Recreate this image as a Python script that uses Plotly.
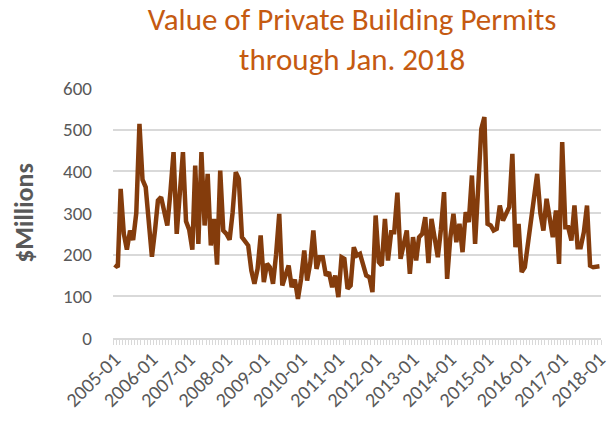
import pandas as pd
import plotly.graph_objects as go

# Monthly value of private building permits ($ millions), 2005-01 .. 2018-01
start_month = "2005-01-01"
values = [
    176, 170, 358, 250, 212, 258, 235, 300, 514, 380, 362, 270,   # 2005
    195, 260, 330, 338, 300, 270, 350, 446, 250, 340, 446, 280,   # 2006
    260, 212, 414, 226, 446, 270, 394, 222, 286, 176, 402, 258,   # 2007
    250, 236, 300, 398, 382, 242, 232, 222, 162, 130, 166, 246,   # 2008
    134, 178, 170, 130, 200, 298, 126, 150, 174, 122, 140, 94,    # 2009
    142, 210, 138, 180, 258, 166, 194, 194, 150, 158, 122, 150,   # 2010
    98, 194, 190, 118, 126, 218, 198, 202, 170, 150, 146, 110,    # 2011
    294, 182, 174, 286, 186, 254, 254, 349, 190, 220, 258, 154,   # 2012
    242, 186, 242, 250, 290, 180, 286, 240, 194, 260, 350, 142,   # 2013
    240, 298, 230, 274, 206, 302, 278, 390, 226, 360, 502, 530,   # 2014
    274, 270, 258, 262, 318, 282, 300, 314, 442, 218, 274, 158,   # 2015
    170, 230, 290, 350, 394, 300, 258, 334, 294, 242, 306, 178,   # 2016
    470, 266, 266, 234, 318, 218, 218, 254, 318, 174, 170, 170,   # 2017
    172,                                                          # 2018-01
]
months = pd.date_range(start_month, periods=len(values), freq="MS")

title_text = "Value of Private Building Permits<br>through Jan. 2018"
y_title = "$Millions"
y_ticks = [0, 100, 200, 300, 400, 500, 600]

font_family = "Carlito, Lato, sans-serif"
grey = "#595959"
grid = "#D9D9D9"

fig = go.Figure(
    go.Scatter(
        x=months,
        y=values,
        mode="lines",
        line=dict(color="#843C0C", width=4.5),
        hoverinfo="x+y",
    )
)

fig.update_layout(
    width=607,
    height=415,
    margin=dict(l=105, r=14, t=80, b=85),
    paper_bgcolor="white",
    plot_bgcolor="white",
    showlegend=False,
    font=dict(family=font_family, color=grey),
    title=dict(
        text=title_text,
        x=0.49,
        xref="paper",
        xanchor="center",
        yref="container",
        y=0.947,
        yanchor="top",
        font=dict(family=font_family, size=31, color="#C55A11"),
    ),
)

fig.update_xaxes(
    type="date",
    range=["2004-12-16", "2018-01-16"],
    tick0="2005-01-01",
    dtick="M12",
    tickformat="%Y-%m",
    tickangle=-45,
    tickfont=dict(size=20, color=grey),
    ticks="",
    showgrid=False,
    showline=True,
    linecolor=grid,
    linewidth=1.5,
    zeroline=False,
    automargin=False,
    minor=dict(
        ticks="outside",
        ticklen=5,
        tickcolor=grid,
        tickwidth=1,
        dtick="M1",
        tick0="2004-12-16",
        showgrid=False,
    ),
)

fig.update_yaxes(
    range=[0, 600],
    tickvals=y_ticks,
    tickfont=dict(size=19, color=grey),
    showgrid=True,
    gridcolor=grid,
    gridwidth=1.5,
    zeroline=False,
    ticks="",
    automargin=False,
    ticklabelstandoff=20,
    title=dict(
        text="<b>" + y_title + "</b>",
        font=dict(size=26, color=grey),
        standoff=22,
    ),
)

fig.write_html("out.html")
